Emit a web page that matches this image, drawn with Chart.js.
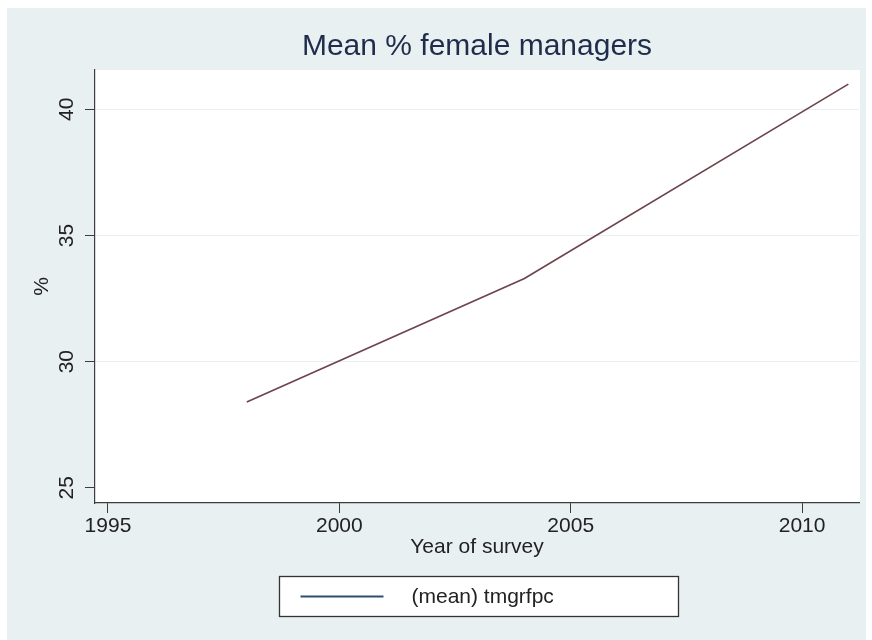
<!DOCTYPE html>
<html>
<head>
<meta charset="utf-8">
<title>Mean % female managers</title>
<script src="https://cdn.jsdelivr.net/npm/chart.js@4/dist/chart.umd.min.js"></script>
<style>
  html, body { margin: 0; padding: 0; background: #ffffff; }
  #wrap { width: 872px; height: 640px; }
  canvas { display: block; }
</style>
</head>
<body>
<div id="wrap"><canvas id="chart" width="872" height="640"></canvas></div>
<script>
// Survey years and the mean share of female managers in each
const years = [1998, 2004, 2011];
const meanFemaleManagers = [28.4, 33.3, 41.0];
const seriesName = '(mean) tmgrfpc';

// Axis ticks and ranges
const xTicks = [1995, 2000, 2005, 2010];
const yTicks = [25, 30, 35, 40];
const xRange = [1994.72, 2011.23];
const yRange = [24.40, 41.56];

const FONT = '"Liberation Sans", Arial, Helvetica, sans-serif';
const PANEL = '#e9f0f2';
const AXIS = '#3c3c3c';
const TEXT = '#222222';
const LINE = '#6e454d';
const LEGEND_LINE = '#2e4f70';

// Light outer panel with a white plot region on top of it
const panelPlugin = {
  id: 'panel',
  beforeDraw(chart) {
    const { ctx, chartArea: a } = chart;
    ctx.save();
    ctx.fillStyle = PANEL;
    ctx.fillRect(7, 8, 859, 632);
    ctx.fillStyle = '#ffffff';
    ctx.fillRect(a.left, a.top, a.right - a.left + 1, a.bottom - a.top);
    ctx.restore();
  }
};

// Boxed legend below the x-axis title
const boxedLegend = {
  id: 'boxedLegend',
  afterDraw(chart) {
    const { ctx, chartArea: a } = chart;
    const ds = chart.data.datasets[0];
    const w = 399, h = 40;
    const cx = (a.left + a.right) / 2 + 1;
    const left = Math.round(cx - w / 2) + 0.5;
    const top = 576.5;
    ctx.save();
    ctx.fillStyle = '#ffffff';
    ctx.fillRect(left, top, w, h);
    ctx.strokeStyle = '#333333';
    ctx.lineWidth = 1.3;
    ctx.strokeRect(left, top, w, h);
    const midY = top + h / 2;
    ctx.strokeStyle = LEGEND_LINE;
    ctx.lineWidth = 2;
    ctx.beginPath();
    ctx.moveTo(left + 21, midY);
    ctx.lineTo(left + 104, midY);
    ctx.stroke();
    ctx.fillStyle = TEXT;
    ctx.font = '21px ' + FONT;
    ctx.textBaseline = 'middle';
    ctx.textAlign = 'left';
    ctx.fillText(ds.label, left + 132, midY + 1);
    ctx.restore();
  }
};

const points = years.map((x, i) => ({ x: x, y: meanFemaleManagers[i] }));

new Chart(document.getElementById('chart'), {
  type: 'line',
  data: {
    datasets: [{
      label: seriesName,
      data: points,
      borderColor: LINE,
      backgroundColor: LINE,
      borderWidth: 1.7,
      pointRadius: 0,
      pointHoverRadius: 0,
      tension: 0,
      fill: false
    }]
  },
  options: {
    responsive: false,
    devicePixelRatio: 1,
    animation: false,
    events: [],
    layout: { padding: { left: 0, right: 13, top: 0, bottom: 75 } },
    plugins: {
      legend: { display: false },
      tooltip: { enabled: false },
      title: {
        display: true,
        text: 'Mean % female managers',
        fullSize: false,
        color: '#1f2d4b',
        font: { family: FONT, size: 30, weight: 'normal' },
        padding: { top: 29, bottom: 5 }
      }
    },
    scales: {
      x: {
        type: 'linear',
        position: 'bottom',
        min: xRange[0],
        max: xRange[1],
        afterBuildTicks(scale) { scale.ticks = xTicks.map(v => ({ value: v })); },
        afterFit(scale) { scale.height = 62; },
        ticks: {
          color: TEXT,
          font: { family: FONT, size: 21 },
          padding: 1,
          maxRotation: 0,
          minRotation: 0,
          callback: v => String(v)
        },
        grid: {
          drawOnChartArea: false,
          drawTicks: true,
          tickLength: 10,
          tickColor: AXIS,
          tickWidth: 1
        },
        border: { display: true, color: AXIS, width: 1.2 },
        title: {
          display: true,
          text: 'Year of survey',
          color: TEXT,
          font: { family: FONT, size: 21 },
          padding: { top: 0, bottom: 5 }
        }
      },
      y: {
        type: 'linear',
        position: 'left',
        min: yRange[0],
        max: yRange[1],
        afterBuildTicks(scale) { scale.ticks = yTicks.map(v => ({ value: v })); },
        afterFit(scale) { scale.width = 95; },
        ticks: {
          color: TEXT,
          font: { family: FONT, size: 21 },
          padding: 6,
          minRotation: 90,
          maxRotation: 90,
          crossAlign: 'center',
          callback: v => String(v)
        },
        grid: {
          drawOnChartArea: true,
          drawTicks: true,
          tickLength: 10,
          tickColor: AXIS,
          tickWidth: 1,
          lineWidth: 1,
          color: c => (c.tick && c.tick.value === yTicks[0]) ? 'rgba(0,0,0,0)' : '#e9eff1'
        },
        border: { display: true, color: AXIS, width: 1.2 },
        title: {
          display: true,
          text: '%',
          color: TEXT,
          font: { family: FONT, size: 21 },
          padding: { top: 30, bottom: 0 }
        }
      }
    }
  },
  plugins: [panelPlugin, boxedLegend]
});
</script>
</body>
</html>
